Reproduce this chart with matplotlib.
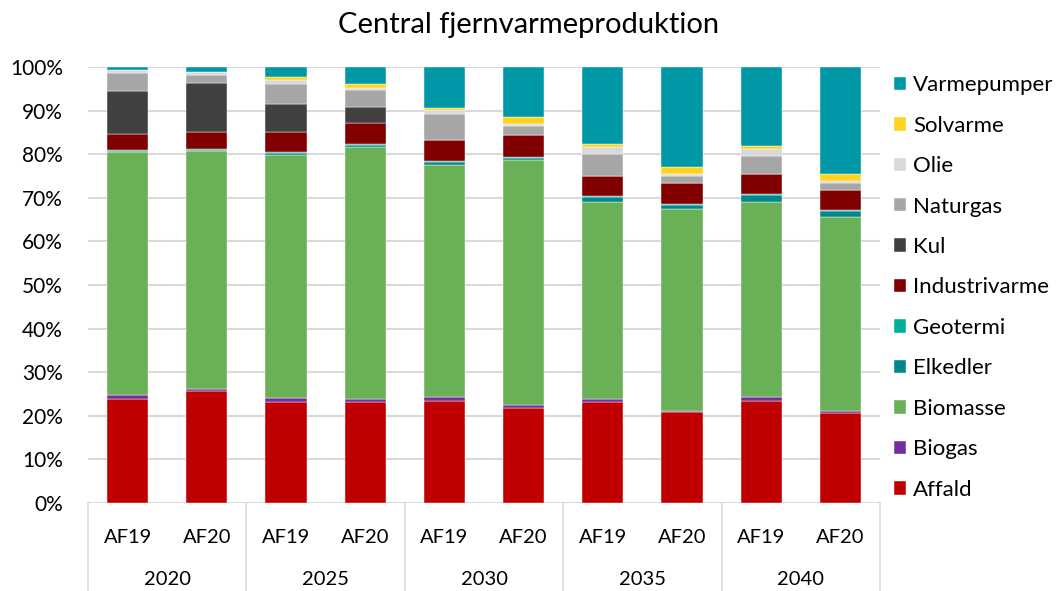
import matplotlib
matplotlib.use("Agg")
import matplotlib.pyplot as plt
import numpy as np

plt.rcParams['font.family'] = ['Lato', 'DejaVu Sans']

years = ["2020", "2025", "2030", "2035", "2040"]
scenarios = ["AF19", "AF20"]

# Shares of production (%) per bar, ordered 2020 AF19, 2020 AF20, ..., 2040 AF20
affald        = [23.9, 25.7, 23.2, 23.2, 23.4, 21.9, 23.2, 20.8, 23.5, 20.7]
biogas        = [0.8, 0.5, 0.9, 0.7, 0.8, 0.5, 0.7, 0.4, 0.8, 0.4]
biomasse      = [55.8, 54.5, 55.7, 57.8, 53.4, 56.3, 45.1, 46.3, 44.7, 44.6]
elkedler      = [0.3, 0.3, 0.5, 0.4, 0.6, 0.4, 1.2, 0.9, 1.7, 1.2]
geotermi      = [0.2, 0.2, 0.2, 0.2, 0.2, 0.2, 0.2, 0.2, 0.2, 0.2]
industrivarme = [3.6, 3.8, 4.7, 4.8, 4.9, 5.1, 4.7, 4.9, 4.6, 4.8]
kul           = [10.0, 11.3, 6.4, 3.8, 0.0, 0.0, 0.0, 0.0, 0.0, 0.0]
naturgas      = [4.1, 1.9, 4.6, 3.8, 6.0, 2.1, 4.9, 1.5, 4.2, 1.5]
olie          = [0.7, 0.6, 0.8, 0.4, 0.8, 0.5, 1.7, 0.5, 1.6, 0.5]
solvarme      = [0.0, 0.0, 0.6, 0.9, 0.6, 1.5, 0.6, 1.6, 0.6, 1.5]
varmepumper   = [0.6, 1.2, 2.4, 4.0, 9.3, 11.5, 17.7, 22.9, 18.1, 24.6]

series = [
    ("Affald", affald, "#C00000"),
    ("Biogas", biogas, "#7030A0"),
    ("Biomasse", biomasse, "#6AB056"),
    ("Elkedler", elkedler, "#00868B"),
    ("Geotermi", geotermi, "#00B09B"),
    ("Industrivarme", industrivarme, "#800000"),
    ("Kul", kul, "#404040"),
    ("Naturgas", naturgas, "#A6A6A6"),
    ("Olie", olie, "#D9D9D9"),
    ("Solvarme", solvarme, "#FFD320"),
    ("Varmepumper", varmepumper, "#0097A7"),
]

W, H = 1057, 591
fig = plt.figure(figsize=(W / 100, H / 100), dpi=100)
ax = fig.add_axes([88 / W, 1 - 503 / H, (880 - 88) / W, (503 - 67) / H])

n = len(affald)
x = np.arange(n)
bottom = np.zeros(n)
handles = []
for name, vals, color in series:
    v = np.array(vals) / 100.0
    h = ax.bar(x, v, bottom=bottom, width=0.52, color=color, label=name,
               edgecolor="white", linewidth=0.3, zorder=3)
    handles.append(h)
    bottom += v

ax.set_xlim(-0.5, n - 0.5)
ax.set_ylim(0, 1.0)
yt = np.arange(0, 1.01, 0.1)
ax.set_yticks(yt)
ax.set_yticklabels([f"{int(round(t * 100))}%" for t in yt], fontsize=15)
ax.yaxis.grid(True, color="#D9D9D9", linewidth=1.5, zorder=0)
ax.set_axisbelow(True)
for s in ax.spines.values():
    s.set_visible(False)
ax.tick_params(axis="y", length=0, pad=18)
ax.tick_params(axis="x", length=0, pad=18.5)

ax.set_xticks(x)
ax.set_xticklabels([scenarios[i % 2] for i in range(n)], fontsize=14.5)

trans = ax.get_xaxis_transform()
for i, yr in enumerate(years):
    ax.text(2 * i + 0.5, -0.176, yr, transform=trans, ha="center", va="center", fontsize=14.5)
for b in np.arange(-0.5, n, 2):
    ax.plot([b, b], [0, -0.205], transform=trans, color="#D9D9D9", linewidth=1.2, clip_on=False)

fig.text(0.5, 1 - 25 / H, "Central fjernvarmeproduktion", ha="center", va="center", fontsize=21)

fs = 16
leg = fig.legend(handles[::-1], [s[0] for s in series][::-1], loc="center left",
                 bbox_to_anchor=((894 - 0.4 * fs * 100 / 72) / W, 1 - 287.5 / H),
                 bbox_transform=fig.transFigure, frameon=False, fontsize=fs,
                 labelspacing=0.92, handlelength=0.55, handleheight=0.55,
                 handletextpad=0.3, borderaxespad=0)

fig.savefig("out.png", dpi=100)
